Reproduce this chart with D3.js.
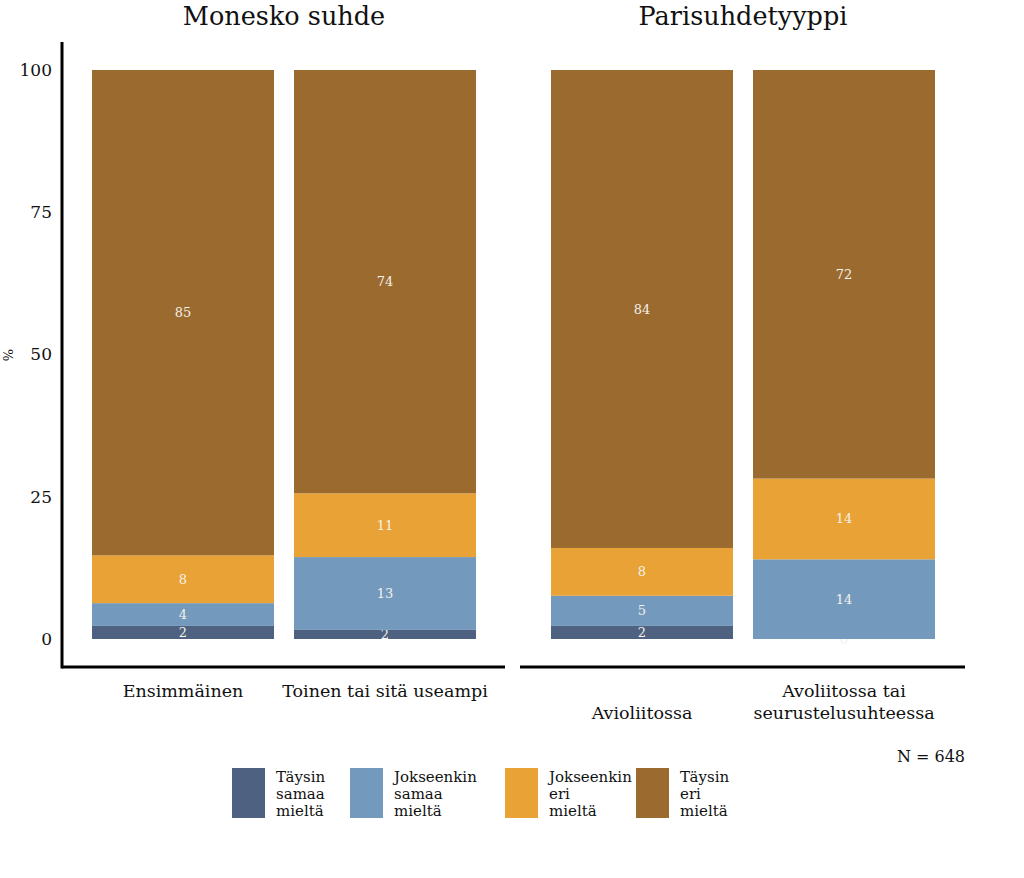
<!DOCTYPE html>
<html><head><meta charset="utf-8">
<script src="https://cdn.jsdelivr.net/npm/d3@7"></script>
<style>body{margin:0;background:#fff}svg{display:block}text{font-family:"DejaVu Serif",serif}</style>
</head><body><svg id="c" width="1024" height="878"></svg>
<script>
const facets = ["Monesko suhde", "Parisuhdetyyppi"];
const categories = [
  ["Ensimmäinen", "Toinen tai sitä useampi"],
  ["Avioliitossa", "Avoliitossa tai|seurustelusuhteessa"]
];
const seriesNames = ["Täysin samaa mieltä", "Jokseenkin samaa mieltä", "Jokseenkin eri mieltä", "Täysin eri mieltä"];
const colors = ["#4e6180", "#7399bd", "#e8a235", "#9a6a2e"];
const taysinSamaa = [[2.3, 1.6], [2.3, 0]];
const jokseenkinSamaa = [[4.0, 12.8], [5.3, 14.0]];
const jokseenkinEri = [[8.4, 11.2], [8.4, 14.2]];
const taysinEri = [[85.3, 74.4], [84.0, 71.8]];
const yTicks = [0, 25, 50, 75, 100];
const note = "N = 648";

const svg = d3.select("#c");
const y = d3.scaleLinear().domain([0, 100]).range([639, 70]);
const panels = [{x0: 62, x1: 505}, {x0: 520, x1: 965}];
const barRanges = [[92, 476], [551, 935]];
const series = [taysinSamaa, jokseenkinSamaa, jokseenkinEri, taysinEri];

panels.forEach((p, fi) => {
  const x = d3.scaleBand().domain(categories[fi]).range(barRanges[fi]).paddingInner(20/202).paddingOuter(0);
  const g = svg.append("g");
  const maxLines = d3.max(categories[fi], c => c.split("|").length);
  g.append("text").attr("x", (barRanges[fi][0] + barRanges[fi][1]) / 2).attr("y", 25)
    .attr("text-anchor", "middle").attr("font-size", 25.5).attr("fill", "#111").text(facets[fi]);
  categories[fi].forEach((cat, ci) => {
    let cum = 0;
    series.forEach((s, si) => {
      const v = s[fi][ci];
      const y0 = cum, y1 = cum + v;
      cum = y1;
      g.append("rect").attr("x", x(cat)).attr("width", x.bandwidth())
        .attr("y", y(y1)).attr("height", y(y0) - y(y1)).attr("fill", colors[si]);
      g.append("text").attr("x", x(cat) + x.bandwidth() / 2).attr("y", (y(y0) + y(y1)) / 2)
        .attr("dy", "0.35em").attr("text-anchor", "middle").attr("font-size", 13)
        .attr("fill", "#f4f0ea").text(Math.round(v));
    });
    const lines = cat.split("|");
    const t = g.append("text").attr("text-anchor", "middle").attr("font-size", 17.5).attr("fill", "#111");
    const baseY = 697 + (maxLines - 1) * 22;
    lines.forEach((ln, li) => {
      t.append("tspan").attr("x", x(cat) + x.bandwidth() / 2)
        .attr("y", baseY - (lines.length - 1 - li) * 22).text(ln);
    });
  });
  g.append("line").attr("x1", p.x0).attr("x2", p.x1).attr("y1", 667).attr("y2", 667)
    .attr("stroke", "#000").attr("stroke-width", 3);
});

const ya = svg.append("g").attr("transform", "translate(62,0)")
  .call(d3.axisLeft(y).tickValues(yTicks).tickSize(0).tickPadding(10));
ya.select(".domain").remove();
ya.selectAll("text").attr("font-size", 17).attr("fill", "#111").attr("font-family", "DejaVu Serif, serif");
svg.append("line").attr("x1", 62).attr("x2", 62).attr("y1", 42).attr("y2", 668.5)
  .attr("stroke", "#000").attr("stroke-width", 3);
svg.append("text").attr("transform", "translate(13,355) rotate(-90)").attr("text-anchor", "middle")
  .attr("font-size", 13).attr("fill", "#111").text("%");

svg.append("text").attr("x", 965).attr("y", 762).attr("text-anchor", "end")
  .attr("font-size", 16).attr("fill", "#111").text(note);

const legX = [232, 350, 505, 636];
const legLines = [["Täysin", "samaa", "mieltä"], ["Jokseenkin", "samaa", "mieltä"], ["Jokseenkin", "eri", "mieltä"], ["Täysin", "eri", "mieltä"]];
seriesNames.forEach((n, i) => {
  const lg = svg.append("g").attr("transform", `translate(${legX[i]},768)`);
  lg.append("rect").attr("width", 33).attr("height", 50).attr("fill", colors[i]);
  const t = lg.append("text").attr("font-size", 15).attr("fill", "#111");
  legLines[i].forEach((ln, li) => t.append("tspan").attr("x", 44).attr("y", 14 + li * 17).text(ln));
});
</script></body></html>
